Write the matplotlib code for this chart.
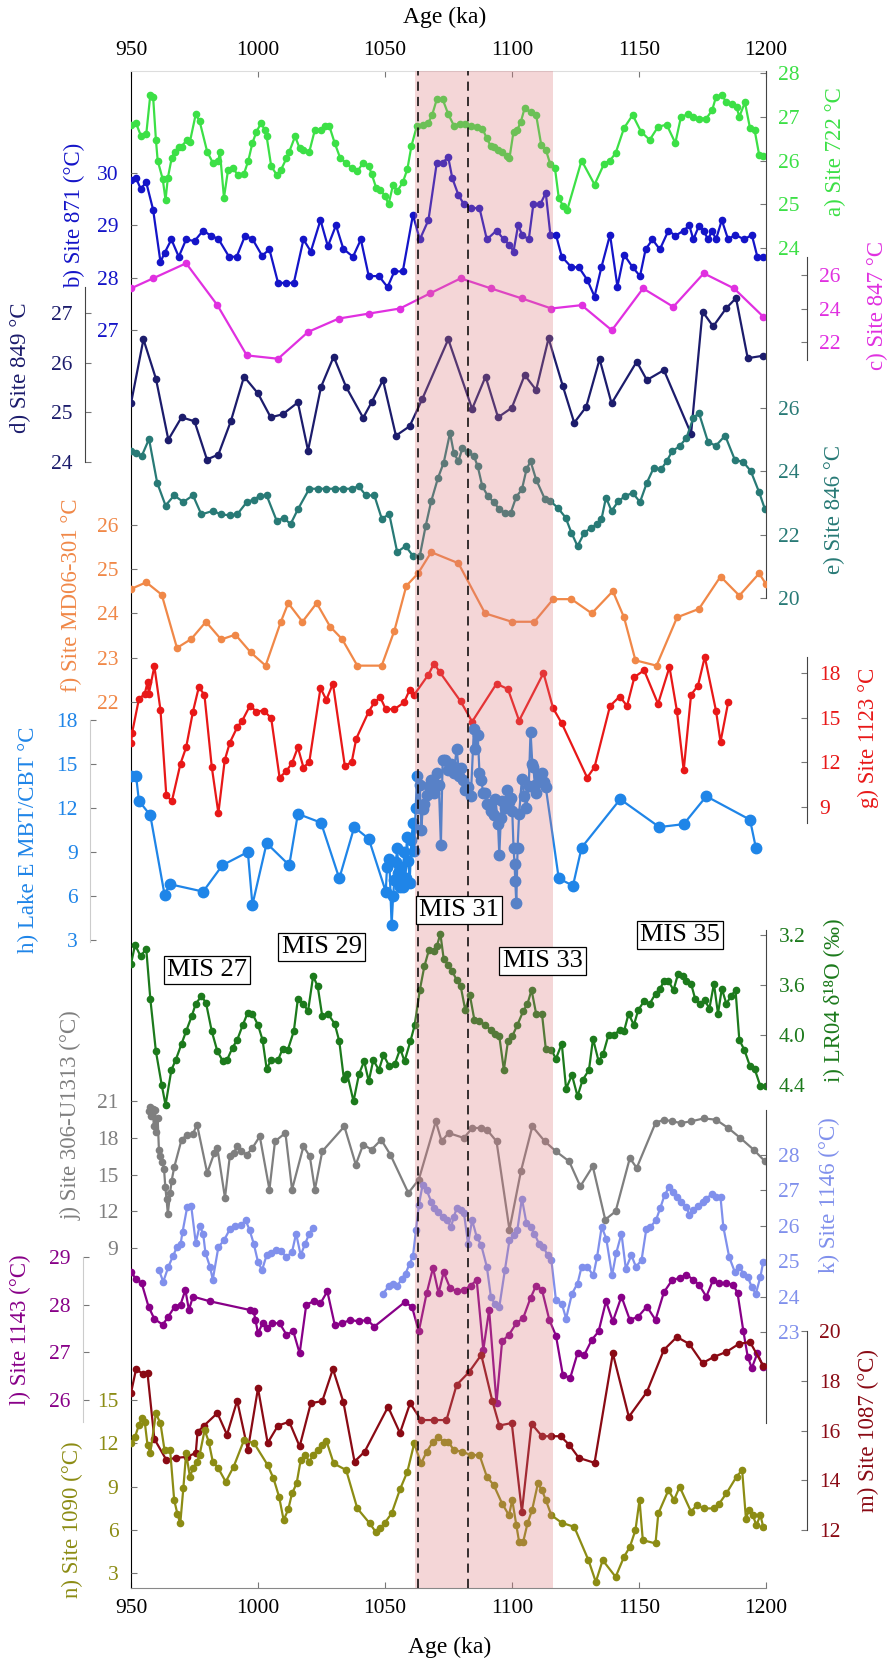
import matplotlib
matplotlib.use("Agg")
import matplotlib.pyplot as plt

plt.rcParams['font.family'] = ['Liberation Serif', 'DejaVu Serif']

# ---- proxy records: (age in ka, value) ----
site722 = [(950, 26.82), (952, 26.85), (954, 26.55), (956, 26.6), (957.6, 27.5), (958.7, 27.46), (959.8, 26.48),
           (960.5, 26.0), (962.5, 25.57), (963.6, 25.1), (964.5, 25.6), (966, 26.05), (967.2, 26.2), (968.8, 26.3),
           (969.9, 26.32), (972, 26.47), (973.2, 26.43), (975.5, 27.06), (977, 26.9), (980, 26.2), (982.2, 25.95),
           (984.4, 26.0), (985, 26.2), (986.6, 25.15), (988.2, 25.78), (990, 25.82), (992.2, 25.67), (994.5, 25.7),
           (996.2, 26.0), (997.8, 26.4), (999.4, 26.66), (1001.2, 26.85), (1002.7, 26.7), (1003.4, 26.55),
           (1005.2, 25.87), (1007.4, 25.67), (1009, 25.78), (1011.2, 26.05), (1012.3, 26.2), (1014.6, 26.55),
           (1016.4, 26.28), (1017.9, 26.25), (1020.2, 26.2), (1022.4, 26.7), (1024.8, 26.7), (1026.2, 26.8),
           (1028, 26.8), (1030.2, 26.4), (1032.4, 26.05), (1034.7, 25.95), (1036.9, 25.82), (1039.1, 25.75),
           (1041.4, 25.95), (1043.6, 25.87), (1044.7, 25.7), (1046.5, 25.38), (1048.1, 25.33), (1049.9, 25.2),
           (1051.4, 25.0), (1053.2, 25.45), (1054.8, 25.3), (1057, 25.5), (1058.8, 25.8), (1060.4, 26.33),
           (1062.6, 26.8), (1064.8, 26.82), (1067, 26.85), (1068.6, 27.05), (1070.4, 27.4), (1072.7, 27.4),
           (1074.9, 27.06), (1077.1, 26.8), (1079.4, 26.83), (1081.6, 26.83), (1083.8, 26.8), (1086.1, 26.76),
           (1088.3, 26.73), (1090, 26.52), (1091.6, 26.33), (1092.8, 26.3), (1094.5, 26.25), (1096.1, 26.2),
           (1097.9, 26.1), (1099, 26.05), (1100.6, 26.66), (1102.1, 26.7), (1103.5, 26.89), (1105, 27.2),
           (1107.3, 27.1), (1109.5, 27.04), (1111.5, 26.36), (1113.3, 26.25), (1115.1, 25.91), (1116.9, 25.83),
           (1118.4, 25.15), (1120.2, 24.95), (1121.8, 24.88), (1127.4, 26.0), (1132.5, 25.45), (1136.3, 25.93),
           (1138.6, 26.0), (1140.8, 26.17), (1144.1, 26.74), (1147.5, 27.04), (1150.8, 26.66), (1154.2, 26.47),
           (1157.5, 26.77), (1160.9, 26.82), (1164.3, 26.4), (1166.5, 26.99), (1169.2, 27.06), (1171.4, 26.99),
           (1173.6, 26.96), (1176.5, 26.96), (1178.8, 27.15), (1180.3, 27.45), (1182.6, 27.5), (1184.4, 27.33),
           (1186.6, 27.3), (1188.4, 27.22), (1189.5, 27.0), (1191.7, 27.33), (1193.7, 26.74), (1195.5, 26.7),
           (1197.3, 26.13), (1198.9, 26.1)]

site871 = [(950, 29.87), (952, 29.9), (953.8, 29.7), (956, 29.82), (958.7, 29.3), (961.6, 28.3), (963.2, 28.47),
           (965.9, 28.73), (968.8, 28.4), (971.7, 28.73), (975, 28.7), (978.4, 28.9), (981.5, 28.8), (984.4, 28.74),
           (988.6, 28.4), (991.6, 28.4), (994.9, 28.8), (997.8, 28.74), (1001.6, 28.42), (1004.5, 28.54),
           (1007.9, 27.9), (1011.2, 27.9), (1014.1, 27.9), (1017.9, 28.73), (1020.8, 28.5), (1024.6, 29.1),
           (1027.5, 28.6), (1030.7, 29.0), (1033.6, 28.55), (1037.4, 28.4), (1040.5, 28.73), (1043.6, 28.03),
           (1047.6, 28.03), (1051, 27.82), (1053.7, 28.12), (1057, 28.12), (1061, 29.2), (1063.7, 28.73),
           (1067.1, 29.1), (1070.4, 30.2), (1072.7, 30.2), (1074.9, 30.3), (1076.5, 29.9), (1078.9, 29.58),
           (1081.1, 29.4), (1083.8, 29.33), (1087.2, 29.33), (1090.1, 28.73), (1093.9, 28.9), (1096.8, 28.73),
           (1099, 28.63), (1100.6, 28.5), (1102.4, 29.0), (1104, 28.82), (1106.6, 28.73), (1108.4, 29.4),
           (1111.1, 29.4), (1113.3, 29.62), (1115.1, 28.82), (1117.3, 28.82), (1119.6, 28.4), (1123.4, 28.2),
           (1126.3, 28.2), (1129.6, 27.96), (1132.5, 27.64), (1135.2, 28.2), (1138.6, 28.82), (1141.5, 27.83),
           (1144.1, 28.44), (1147.5, 28.2), (1150.4, 28.03), (1152.6, 28.54), (1155.3, 28.73), (1158.2, 28.54),
           (1161.6, 28.9), (1164.3, 28.8), (1167.6, 28.9), (1169.8, 29.0), (1171.4, 28.73), (1173.6, 28.99),
           (1175.4, 28.9), (1177.2, 28.73), (1178.8, 28.9), (1180.3, 28.73), (1182.6, 29.1), (1185.1, 28.73),
           (1187.8, 28.82), (1191.5, 28.73), (1194.4, 28.82), (1196.6, 28.4), (1198.9, 28.4)]

site847 = [(950, 25.2), (958.7, 25.8), (971.7, 26.7), (984, 24.2), (995.6, 21.2), (1007.9, 21.0), (1019.7, 22.6),
           (1031.8, 23.4), (1043.8, 23.7), (1055.9, 24.0), (1067.7, 24.9), (1079.8, 25.8), (1091.7, 25.2),
           (1103.9, 24.6), (1115.5, 24.0), (1127.4, 24.2), (1139.3, 22.7), (1151.6, 25.2), (1163.5, 24.1),
           (1175.5, 26.1), (1187.4, 25.2), (1199, 23.5)]

site849 = [(950, 25.18), (954.9, 26.47), (959.8, 25.68), (964.7, 24.45), (969.9, 24.9), (975, 24.82), (979.9, 24.05),
           (984.4, 24.15), (989.3, 24.82), (994.5, 25.72), (1000, 25.38), (1005, 24.9), (1009.7, 24.96),
           (1015.7, 25.2), (1019.7, 24.23), (1024.8, 25.51), (1029.8, 26.12), (1034.7, 25.51), (1041.4, 24.89),
           (1044.7, 25.2), (1049.2, 25.65), (1054.3, 24.53), (1059.7, 24.72), (1064.6, 25.26), (1074.9, 26.47),
           (1084.3, 25.07), (1089.6, 25.72), (1094.5, 24.9), (1099.9, 25.09), (1105, 25.75), (1109.5, 25.45),
           (1114.4, 26.49), (1120, 25.53), (1124.5, 24.79), (1129.2, 25.11), (1134.5, 26.07), (1139.2, 25.18),
           (1149.1, 26.02), (1153.1, 25.65), (1159.8, 25.85), (1170.5, 24.57), (1175, 27.03), (1179.2, 26.73),
           (1184.4, 27.1), (1188.2, 27.3), (1192.8, 26.09), (1198.9, 26.14)]

site846 = [(950, 24.64), (952, 24.58), (954.2, 24.48), (957.1, 25.02), (960.3, 23.64), (963.6, 22.92), (967, 23.24),
           (970.6, 23.03), (974.4, 23.24), (977.7, 22.64), (982.2, 22.75), (985.5, 22.64), (988.9, 22.61),
           (991.8, 22.64), (995.6, 23.03), (998.3, 23.11), (1000.7, 23.22), (1003.4, 23.24), (1007.4, 22.43),
           (1010.1, 22.54), (1012.8, 22.33), (1015.7, 22.8), (1020.2, 23.45), (1023.5, 23.45), (1026.9, 23.45),
           (1030.2, 23.45), (1033.6, 23.45), (1036.9, 23.45), (1039.6, 23.53), (1042.5, 23.24), (1045.8, 23.24),
           (1048.7, 22.51), (1051.7, 22.64), (1054.8, 21.45), (1058.1, 21.64), (1061, 21.33), (1063.7, 21.33),
           (1066, 22.27), (1068.2, 23.06), (1070.9, 23.8), (1073.1, 24.27), (1075.6, 25.21), (1077.1, 24.58),
           (1078.9, 24.32), (1080.5, 24.74), (1082.7, 24.6), (1085, 24.48), (1086.5, 24.16), (1088.3, 23.53),
           (1090.5, 23.22), (1092.8, 23.03), (1095, 22.8), (1097.2, 22.69), (1099.5, 22.69), (1101.7, 23.2),
           (1103.9, 23.43), (1105.7, 24.06), (1107.3, 24.32), (1109.5, 23.74), (1112.9, 23.13), (1115.1, 23.06),
           (1118, 22.85), (1121.1, 22.54), (1123.4, 22.06), (1125.8, 21.64), (1128.5, 22.06), (1131.2, 22.22),
           (1133.4, 22.33), (1135.2, 22.48), (1137, 23.17), (1139.2, 22.75), (1141.9, 23.06), (1144.6, 23.22),
           (1147.5, 23.32), (1150.4, 23.03), (1153.1, 23.64), (1155.8, 24.11), (1158.7, 24.06), (1160.9, 24.32),
           (1163.1, 24.64), (1166, 24.79), (1168.7, 25.06), (1171.4, 25.69), (1173.6, 25.84), (1177.2, 24.92),
           (1180.3, 24.81), (1183.9, 25.13), (1187.7, 24.37), (1191.1, 24.29), (1194, 24.01), (1197.3, 23.34),
           (1199.6, 22.8)]

site_md06 = [(950, 24.55), (956, 24.7), (962.1, 24.42), (968.1, 23.22), (973.7, 23.42), (979.5, 23.81), (985.5, 23.41),
             (991.1, 23.52), (997.1, 23.12), (1003, 22.82), (1009, 23.81), (1011.9, 24.23), (1017.5, 23.81),
             (1023.1, 24.23), (1028.4, 23.7), (1033.1, 23.42), (1039.1, 22.82), (1048.7, 22.82), (1053.7, 23.61),
             (1058.4, 24.62), (1063, 24.9), (1068.2, 25.38), (1078.9, 25.13), (1089.4, 24.0), (1099.9, 23.81),
             (1108.8, 23.81), (1116.2, 24.32), (1123.4, 24.32), (1131.4, 24.0), (1139.7, 24.5), (1144.1, 23.91),
             (1148.6, 22.94), (1156.9, 22.82), (1165, 23.91), (1173.6, 24.1), (1182.1, 24.83), (1189.5, 24.4),
             (1197.3, 24.9), (1200, 24.66)]

site1123 = [(950, 13.27), (950.4, 13.95), (953.1, 16.24), (955.4, 16.6), (956.5, 17.37), (957, 16.6), (959.2, 18.45),
            (961.6, 15.52), (963.9, 9.78), (966.1, 9.4), (969.5, 11.92), (971.7, 13.0), (974.4, 15.41), (976.7, 17.05),
            (978.9, 16.54), (981.8, 11.69), (984.4, 8.59), (986.9, 12.14), (988.9, 13.32), (991.8, 14.35),
            (993.8, 14.8), (996.8, 15.79), (999.4, 15.41), (1002.3, 15.48), (1005.2, 14.96), (1008.5, 10.97),
            (1011.2, 11.42), (1013.4, 11.96), (1015.7, 13.0), (1017.9, 11.65), (1020.2, 12.03), (1024.6, 16.99),
            (1026.9, 16.2), (1029.5, 17.28), (1034.2, 11.74), (1036.9, 12.03), (1038.7, 13.6), (1043.6, 15.41),
            (1045.8, 16.02), (1048.1, 16.38), (1050.3, 15.57), (1053.7, 15.57), (1057.5, 16.02), (1059.7, 16.87),
            (1061.5, 16.54), (1067.1, 17.89), (1069.3, 18.63), (1071.6, 18.05), (1079.8, 16.09), (1084.3, 14.73),
            (1093.9, 17.28), (1098.4, 16.92), (1102.8, 14.8), (1112.4, 18.0), (1116.2, 15.63), (1119.6, 14.62),
            (1129.6, 10.97), (1132.5, 11.69), (1138.6, 15.79), (1142.4, 16.42), (1145.3, 15.79), (1148.2, 17.73),
            (1152, 18.18), (1157.5, 15.93), (1162, 18.4), (1164.9, 15.48), (1167.6, 11.47), (1170.5, 16.54),
            (1173.2, 17.14), (1175.9, 19.08), (1180.3, 15.48), (1182.1, 13.38), (1185.1, 16.02)]

lake_e = [(950, 14.2), (952, 14.2), (953.1, 12.5), (957.6, 11.5), (963.2, 6.1), (965.4, 6.8), (978.4, 6.3), (986, 8.1),
          (996, 9.0), (997.8, 5.4), (1003.4, 9.6), (1012.3, 8.1), (1015.7, 11.6), (1024.8, 11.0), (1032, 7.2),
          (1037.9, 10.7), (1043.6, 9.9), (1050.3, 6.3), (1050.8, 8.0), (1051.7, 8.5), (1052.6, 4.0), (1053.2, 6.0),
          (1053.7, 7.1), (1054.3, 8.3), (1054.8, 9.3), (1055.3, 7.6), (1055.9, 6.6), (1056.4, 8.0), (1057, 6.6),
          (1057.5, 9.0), (1058.1, 7.2), (1058.6, 10.0), (1059.2, 8.4), (1059.7, 6.9), (1060.4, 9.8), (1061, 11.0),
          (1061.5, 9.1), (1062.1, 12.0), (1062.6, 14.2), (1063.2, 12.0), (1063.7, 13.6), (1064.3, 10.5),
          (1064.8, 11.9), (1065.4, 12.3), (1066.4, 12.9), (1067.3, 13.5), (1068.2, 13.9), (1069.3, 13.0),
          (1070.4, 14.4), (1071.2, 13.6), (1072, 9.5), (1072.7, 15.3), (1073.8, 15.3), (1074.9, 14.6), (1076, 15.0),
          (1077.1, 14.4), (1078.2, 16.0), (1079.3, 14.2), (1079.8, 14.7), (1080.9, 13.9), (1081.6, 13.2),
          (1082.7, 13.4), (1083.8, 12.8), (1085, 17.4), (1085.6, 16.0), (1086.5, 17.0), (1087.2, 14.4),
          (1087.9, 13.9), (1088.7, 13.0), (1089.4, 13.0), (1090.1, 12.3), (1091, 12.2), (1091.7, 11.8),
          (1092.8, 11.5), (1093.5, 12.6), (1094.5, 10.9), (1095, 8.8), (1095.6, 11.3), (1096.1, 12.5), (1097.2, 12.0),
          (1097.9, 13.2), (1098.8, 12.4), (1099.5, 12.7), (1100.1, 11.8), (1100.6, 9.3), (1101, 8.2), (1101.3, 7.0),
          (1101.7, 5.5), (1102.2, 9.3), (1102.8, 11.6), (1103.9, 14.0), (1104.8, 12.8), (1105.7, 12.0),
          (1106.6, 13.5), (1107.3, 17.2), (1108, 15.0), (1108.4, 14.8), (1109, 13.6), (1109.5, 13.0), (1110.6, 14.2),
          (1111.8, 14.4), (1112.5, 13.8), (1113.3, 13.4), (1118.4, 7.2), (1124, 6.7), (1127.4, 9.3), (1142.6, 12.6),
          (1158, 10.7), (1167.6, 10.9), (1176.5, 12.8), (1193.7, 11.2), (1196, 9.3)]

lr04 = [(950, 3.43), (951.6, 3.28), (953.8, 3.37), (956, 3.31), (957.6, 3.71), (959.8, 4.13), (962.1, 4.4), (963.6, 4.56),
        (965.9, 4.28), (967.6, 4.2), (969.9, 4.07), (971.7, 3.97), (973.9, 3.85), (975.5, 3.75), (977.7, 3.69),
        (979.5, 3.74), (981.8, 3.97), (984, 4.13), (986.2, 4.21), (987.8, 4.2), (990, 4.1), (991.8, 4.04), (994, 3.92),
        (996, 3.82), (997.8, 3.83), (1000, 3.92), (1001.8, 4.04), (1003.4, 4.27), (1005.2, 4.2), (1007.9, 4.2),
        (1009.7, 4.11), (1011.7, 4.12), (1014.1, 3.97), (1015.7, 3.71), (1017.9, 3.75), (1019.7, 3.81),
        (1021.7, 3.53), (1023.5, 3.61), (1025.3, 3.85), (1027.5, 3.83), (1030.2, 3.91), (1032, 4.05), (1033.8, 4.35),
        (1035.1, 4.31), (1037.6, 4.53), (1039.8, 4.31), (1041.8, 4.21), (1043.6, 4.37), (1045.4, 4.2),
        (1047.6, 4.28), (1049.4, 4.16), (1051.7, 4.25), (1053.9, 4.23), (1056, 4.11), (1057.7, 4.21), (1060, 4.05),
        (1061.7, 3.92), (1063.7, 3.64), (1065.5, 3.45), (1067.3, 3.32), (1069.1, 3.33), (1070.4, 3.29),
        (1071.8, 3.19), (1073.1, 3.39), (1074.9, 3.44), (1076.5, 3.49), (1078.2, 3.56), (1079.8, 3.61),
        (1081.6, 3.8), (1083.4, 3.68), (1085.2, 3.88), (1087.2, 3.89), (1089.4, 3.92), (1091.7, 3.96),
        (1093.4, 3.99), (1095, 4.01), (1096.8, 4.28), (1098.4, 4.05), (1100.1, 4.01), (1102.1, 3.92),
        (1104.4, 3.81), (1106.1, 3.75), (1107.7, 3.64), (1109.5, 3.83), (1111.8, 3.83), (1113.3, 4.11),
        (1115.5, 4.12), (1117.3, 4.19), (1119.6, 4.07), (1121.3, 4.43), (1123.6, 4.32), (1125.8, 4.49),
        (1127.8, 4.36), (1130.3, 4.28), (1131.9, 4.03), (1134.1, 4.21), (1135.9, 4.15), (1138, 4.0), (1140.1, 4.0),
        (1142.4, 3.96), (1144.1, 3.97), (1145.9, 3.83), (1148, 3.92), (1149.7, 3.8), (1152, 3.73), (1154.2, 3.75),
        (1156.5, 3.67), (1158.3, 3.63), (1159.8, 3.57), (1161.6, 3.57), (1163.6, 3.64), (1165.4, 3.51),
        (1167.2, 3.53), (1168.7, 3.57), (1170.5, 3.59), (1172.1, 3.71), (1173.9, 3.75), (1175.9, 3.72),
        (1177.7, 3.79), (1179.5, 3.59), (1181.1, 3.83), (1182.6, 3.63), (1184.4, 3.75), (1186.2, 3.69),
        (1188, 3.64), (1189.5, 4.04), (1191.5, 4.12), (1193.7, 4.25), (1195.5, 4.27), (1197.8, 4.41), (1200, 4.41)]

site_u1313 = [(957, 20.2), (957.5, 20.5), (958, 19.8), (958.5, 20.4), (959, 19.0), (959.5, 20.3), (960, 18.5),
              (960.5, 19.6), (961, 17.0), (961.5, 16.5), (962.3, 16.0), (963, 15.5), (963.5, 14.0), (964, 13.0),
              (964.5, 11.8), (965.4, 13.5), (966, 14.5), (967, 15.6), (969.9, 17.86), (972.1, 18.27), (974.4, 18.35),
              (976, 19.1), (980, 15.14), (982.8, 16.77), (984, 17.18), (987, 13.1), (988.9, 16.5), (990.4, 16.77),
              (991.8, 17.32), (993.4, 16.91), (995.6, 16.64), (997.8, 17.18), (1000.7, 18.14), (1004.5, 13.78),
              (1006.7, 17.73), (1010.8, 18.41), (1013.4, 13.78), (1017.9, 17.32), (1020.4, 16.5), (1022.4, 13.78),
              (1025.3, 16.91), (1034, 18.95), (1038.5, 15.82), (1041.4, 17.46), (1044.7, 17.05), (1048.5, 17.86),
              (1052.1, 16.64), (1059.2, 13.5), (1063.3, 14.6), (1070, 19.36), (1072.3, 17.73), (1075, 18.41),
              (1081.1, 18.0), (1084.3, 18.82), (1087.9, 18.82), (1090.1, 18.68), (1093.9, 17.73), (1099, 10.5),
              (1103.5, 15.27), (1108, 18.95), (1112.9, 17.73), (1117.3, 16.91), (1122.5, 16.09), (1126.9, 14.05),
              (1131.8, 15.68), (1136.7, 11.32), (1140.8, 12.0), (1146.4, 16.36), (1149.1, 15.55), (1156.5, 19.23),
              (1159.8, 19.5), (1163.1, 19.36), (1166.5, 19.23), (1170.5, 19.36), (1175.4, 19.6), (1180.3, 19.5),
              (1185.1, 18.82), (1189.9, 18.0), (1195.1, 17.05), (1199.6, 16.09)]

# two separate segments (gap between ~1022 and ~1049 ka)
site1146 = [(961, 24.75), (962.7, 24.42), (964.7, 24.84), (966.5, 25.14), (968.1, 25.4), (969.5, 25.48), (970.3, 25.83),
            (972.1, 26.52), (973.7, 26.56), (975.5, 25.52), (977, 25.99), (978.4, 25.78), (979.3, 25.24),
            (981.1, 24.84), (982.2, 24.48), (984.4, 25.4), (986.6, 25.59), (988.9, 25.9), (991.1, 25.99),
            (993.4, 26.02), (995.1, 26.16), (996.7, 25.88), (998.3, 25.5), (1000, 24.98), (1001.6, 24.75),
            (1003.4, 25.17), (1005.2, 25.22), (1007.2, 25.31), (1009, 25.29), (1011.2, 25.12), (1013.4, 25.26),
            (1015, 25.78), (1016.8, 25.17), (1018.6, 25.5), (1020.2, 25.78), (1021.7, 25.95),
            (1049.2, 24.08), (1051.4, 24.29), (1053.2, 24.37), (1054.8, 24.29), (1056.6, 24.51), (1058.1, 24.65),
            (1059.7, 24.93), (1061, 25.14), (1062.2, 25.88), (1063.3, 26.58), (1064.8, 27.15), (1066.4, 27.01),
            (1068.2, 26.68), (1069.3, 26.49), (1070.9, 26.4), (1072.7, 26.24), (1074.4, 26.16), (1076, 25.97),
            (1077.1, 26.25), (1078.2, 26.49), (1079.8, 26.44), (1081.1, 26.35), (1082.7, 25.5), (1084.3, 26.16),
            (1086.1, 25.69), (1087.9, 25.45), (1090.1, 24.84), (1091.7, 23.99), (1093.2, 23.8), (1095, 23.71),
            (1097.2, 24.75), (1099, 25.59), (1100.6, 25.74), (1102.1, 25.88), (1103.9, 26.77), (1105.7, 26.07),
            (1107.3, 25.97), (1108.8, 25.78), (1110.6, 25.5), (1112.4, 25.4), (1114, 25.17), (1115.5, 25.03),
            (1117.3, 23.9), (1119.6, 23.8), (1121.3, 23.38), (1123.6, 24.08), (1125.8, 24.37), (1127.4, 24.84),
            (1129.6, 24.84), (1132, 24.6), (1133.5, 25.12), (1135.3, 25.97), (1137.1, 25.64), (1139.4, 24.6),
            (1141, 25.22), (1143.1, 25.78), (1144.8, 24.79), (1147, 25.17), (1148.8, 24.84), (1151, 25.03),
            (1152.9, 25.92), (1154.5, 25.97), (1156.7, 26.16), (1158.3, 26.49), (1160.1, 26.87), (1161.9, 27.1),
            (1163.5, 26.96), (1165.1, 26.82), (1166.5, 26.68), (1168.7, 26.54), (1169.8, 26.3), (1171.4, 26.44),
            (1173.2, 26.56), (1175, 26.68), (1176.5, 26.77), (1178.8, 26.9), (1180.3, 26.82), (1182.1, 26.8),
            (1183.2, 25.97), (1185.5, 25.12), (1187.7, 24.7), (1189.5, 24.84), (1191.1, 24.65), (1192.8, 24.56),
            (1194.4, 24.27), (1196, 24.08), (1197.8, 24.56), (1198.9, 24.98)]
site1146_gap = 1035

site1143 = [(950, 28.68), (952, 28.54), (954.2, 28.45), (956.9, 27.96), (959.2, 27.7), (962.5, 27.58), (964.7, 27.75),
            (967.2, 27.96), (969.5, 28.0), (971.4, 28.31), (972.8, 27.89), (974.4, 28.17), (981.1, 28.07),
            (996.7, 27.89), (998.3, 27.86), (999, 27.68), (1000, 27.4), (1001.8, 27.61), (1003.4, 27.51),
            (1005.6, 27.61), (1008.5, 27.61), (1011.2, 27.37), (1013.9, 27.44), (1016.4, 26.98), (1019, 28.0),
            (1021.9, 28.07), (1024.6, 28.03), (1027.3, 28.28), (1030.2, 27.58), (1033.1, 27.61), (1036.3, 27.68),
            (1039.6, 27.65), (1043, 27.68), (1045.8, 27.54), (1057.7, 28.05), (1060.6, 27.96), (1063.3, 27.44),
            (1066.4, 28.24), (1068.9, 28.77), (1071.1, 28.24), (1073.1, 28.68), (1075.6, 28.35), (1078.2, 28.28),
            (1081.1, 28.31), (1083.8, 28.4), (1086.1, 28.52), (1088.7, 27.05), (1091, 27.89), (1093.9, 25.94),
            (1096.1, 27.23), (1098.8, 27.37), (1101.7, 27.61), (1104.4, 27.72), (1107.3, 28.14), (1109.5, 28.4),
            (1111.8, 28.31), (1114.7, 27.68), (1117.3, 27.35), (1120, 26.53), (1122.9, 26.46), (1125.8, 26.98),
            (1128.5, 26.95), (1131.4, 27.26), (1134.1, 27.44), (1137, 28.07), (1139.7, 27.65), (1143.1, 28.17),
            (1146.4, 27.68), (1149.7, 27.75), (1153.1, 27.96), (1156.5, 27.68), (1159.8, 28.26), (1163.1, 28.52),
            (1166, 28.56), (1168.7, 28.63), (1171.4, 28.52), (1173.6, 28.42), (1176.5, 28.17), (1179.2, 28.52),
            (1181.6, 28.45), (1184.4, 28.45), (1187.1, 28.42), (1188.8, 28.24), (1191.1, 27.44), (1192.8, 26.91),
            (1194.4, 26.67), (1196.6, 26.98), (1198.9, 26.7)]

site1087 = [(950, 17.51), (952, 18.47), (954.7, 18.27), (956.5, 18.3), (959.2, 15.66), (963.9, 14.82), (967.6, 14.9),
            (972.1, 14.94), (975.5, 15.1), (976.2, 15.94), (978.8, 16.2), (984, 16.7), (987.8, 15.83), (991.8, 17.2),
            (996, 15.22), (1000, 17.7), (1003.8, 15.5), (1007.9, 16.2), (1012.3, 16.35), (1016.4, 15.36),
            (1020.8, 17.1), (1025.3, 17.18), (1029.5, 18.47), (1033.6, 17.15), (1038, 14.75), (1042, 15.15),
            (1051.2, 16.95), (1055.9, 15.9), (1059.9, 17.1), (1064.2, 16.42), (1069.3, 16.42), (1074.2, 16.42),
            (1078.2, 17.83), (1083.1, 18.35), (1087.9, 19.04), (1092.3, 17.17), (1095, 16.2), (1099.9, 16.3),
            (1103.9, 12.73), (1107.7, 16.27), (1111.8, 15.77), (1115.5, 15.77), (1119.1, 15.77), (1122.5, 15.43),
            (1126.3, 14.9), (1132.5, 14.7), (1139.7, 19.1), (1146, 16.55), (1153.1, 17.55), (1159.8, 19.24),
            (1164.9, 19.76), (1169.8, 19.48), (1175, 18.71), (1179.5, 18.96), (1184.4, 19.16), (1189.3, 19.48),
            (1193.7, 19.56), (1198.9, 18.6)]

site1090 = [(950, 11.99), (951.6, 12.45), (953.1, 13.26), (954.2, 13.73), (955.4, 13.5), (956.5, 11.88), (957.6, 11.34),
            (959.8, 14.07), (961.6, 13.38), (963.2, 11.53), (965.4, 11.53), (967, 8.06), (968.3, 7.08), (969.4, 6.44),
            (970.6, 8.87), (971.7, 11.3), (973.2, 9.68), (974.4, 10.25), (976, 10.72), (977, 11.18), (979, 12.92),
            (980.6, 12.11), (982.2, 10.72), (984.4, 10.25), (987.3, 9.33), (990.4, 10.37), (994.5, 12.22),
            (998.5, 11.99), (1003.8, 10.49), (1006.1, 9.56), (1008.3, 8.29), (1010.1, 6.67), (1011.9, 7.41),
            (1013.4, 8.52), (1015.2, 9.21), (1016.8, 10.83), (1018.6, 11.18), (1020.2, 10.72), (1021.7, 11.18),
            (1023.5, 11.53), (1025.3, 11.88), (1026.9, 12.18), (1029.8, 10.6), (1034.7, 10.14), (1039.1, 7.48),
            (1044, 6.44), (1046.3, 5.86), (1048.1, 6.09), (1049.9, 6.48), (1052.6, 7.13), (1055.9, 8.8),
            (1058.8, 10.02), (1061.5, 11.99), (1064.2, 10.6), (1066.4, 11.41), (1068.9, 12.11), (1070.9, 12.41),
            (1073.1, 12.11), (1074.9, 12.11), (1077.1, 11.53), (1080.5, 11.41), (1083.8, 11.18), (1087.2, 11.18),
            (1090.1, 9.68), (1092.8, 9.1), (1096.1, 7.82), (1098.8, 7.01), (1100.1, 8.06), (1101.7, 6.32),
            (1102.8, 5.16), (1104.4, 5.16), (1106.1, 6.44), (1107.9, 7.36), (1110.2, 9.21), (1111.8, 8.75),
            (1113.3, 8.06), (1115.5, 7.01), (1119.6, 6.48), (1124.5, 6.2), (1130.1, 3.89), (1133, 2.38),
            (1135.7, 3.89), (1140.8, 2.73), (1144.1, 4.12), (1146.4, 4.81), (1148.6, 5.97), (1150.2, 8.06),
            (1151.5, 5.28), (1156.5, 5.05), (1157.6, 7.13), (1161.6, 8.75), (1163.8, 8.06), (1166, 8.98),
            (1170.5, 7.25), (1172.7, 7.71), (1175.4, 7.48), (1179.4, 7.48), (1181.6, 7.82), (1184.4, 8.52),
            (1188.4, 9.68), (1190.6, 10.14), (1192.1, 6.78), (1193.3, 7.36), (1194.8, 7.01), (1196.2, 6.32),
            (1197.8, 7.01), (1198.9, 6.2)]

mis_names = ["MIS 27", "MIS 29", "MIS 31", "MIS 33", "MIS 35"]
mis_ages = [980, 1025, 1079, 1112, 1166]
mis31_band = (1062, 1116)
dashed_ages = [1063, 1082.5]
age_ticks = [950, 1000, 1050, 1100, 1150, 1200]

# ---- layout in figure pixels ----
FIG_W, FIG_H = 890, 1664
LEFT, RIGHT, TOP, BOT = 131, 766, 71, 1588
TICK_FS, LABEL_FS = 15.5, 16.5

fig = plt.figure(figsize=(FIG_W / 100, FIG_H / 100), dpi=100)
ax = fig.add_axes([LEFT / FIG_W, 1 - BOT / FIG_H, (RIGHT - LEFT) / FIG_W, (BOT - TOP) / FIG_H])
ax.set_xlim(950, 1200)
ax.set_ylim(0, 1)
ax.set_yticks([])
ax.set_xticks(age_ticks)
ax.tick_params(axis='x', direction='in', length=4, top=True, labeltop=True,
               labelsize=TICK_FS, pad=8, color='#777777')
ax.spines['right'].set_visible(False)
ax.spines['left'].set_color('black')
ax.spines['top'].set_color('#dddddd')
ax.spines['bottom'].set_color('#888888')
fig.text(445 / FIG_W, 1 - 17 / FIG_H, "Age (ka)", ha='center', va='center', fontsize=17)
fig.text(450 / FIG_W, 1 - 1647 / FIG_H, "Age (ka)", ha='center', va='center', fontsize=17)


def value_at(px, ref):
    (v1, p1), (v2, p2) = ref
    return v1 + (v2 - v1) * (px - p1) / (p2 - p1)


def add_record(data, color, side, spine_x, ref, ticks, label, label_xy,
               spine_px=None, spine_color='#444444', ms=4.5, ticklabels=None, gap=None):
    tw = ax.twinx()
    tw.patch.set_visible(False)
    pts = sorted(data)
    if gap is None:
        segs = [pts]
    else:
        segs = [[p for p in pts if p[0] < gap], [p for p in pts if p[0] > gap]]
    for seg in segs:
        age, val = zip(*seg)
        tw.plot(age, val, '-o', color=color, lw=1.6, ms=ms, mec=color)
    tw.set_ylim(value_at(BOT, ref), value_at(TOP, ref))
    for s in tw.spines.values():
        s.set_visible(False)
    sp = tw.spines[side]
    sp.set_position(('axes', (spine_x - LEFT) / (RIGHT - LEFT)))
    if spine_px is not None:
        sp.set_visible(True)
        sp.set_color(spine_color)
        lo, hi = sorted(value_at(p, ref) for p in spine_px)
        sp.set_bounds(lo, hi)
    tw.yaxis.set_ticks_position(side)
    tw.set_yticks(ticks)
    if ticklabels is not None:
        tw.set_yticklabels(ticklabels)
    tw.tick_params(axis='y', direction='in', length=4, color='#777777',
                   labelcolor=color, labelsize=TICK_FS, pad=9)
    fig.text(label_xy[0] / FIG_W, 1 - label_xy[1] / FIG_H, label, rotation=90,
             color=color, fontsize=LABEL_FS, ha='center', va='center')
    return tw


add_record(site722, '#3ce046', 'right', RIGHT, [(28, 73), (24, 248)], [24, 25, 26, 27, 28],
           "a) Site 722 °C", (835, 152), spine_px=(TOP, 250))
add_record(site871, '#1414c8', 'left', LEFT, [(30, 173), (27, 330)], [27, 28, 29, 30],
           "b) Site 871 (°C)", (74, 215))
add_record(site847, '#e030e0', 'right', 807, [(26, 275), (22, 342)], [22, 24, 26],
           "c) Site 847 °C", (877, 305), spine_px=(257, 360))
add_record(site849, '#1c1c6c', 'left', 85, [(27, 313), (24, 462)], [24, 25, 26, 27],
           "d) Site 849 °C", (20, 368), spine_px=(287, 462))
add_record(site846, '#287a76', 'right', RIGHT, [(26, 408), (20, 598)], [20, 22, 24, 26],
           "e) Site 846 °C", (834, 510), spine_px=(250, 598))
add_record(site_md06, '#f08848', 'left', LEFT, [(25, 569), (22, 702)], [22, 23, 24, 25, 26],
           "f) Site MD06-301 °C", (71, 595))
add_record(site1123, '#e81818', 'right', 807, [(18, 673), (9, 807)], [9, 12, 15, 18],
           "g) Site 1123 °C", (868, 738), spine_px=(657, 823))
add_record(lake_e, '#1f85e8', 'left', 90, [(18, 720), (3, 940)], [3, 6, 9, 12, 15, 18],
           "h) Lake E MBT/CBT °C", (28, 840), spine_px=(720, 942), spine_color='#cccccc', ms=7.5)
add_record(lr04, '#1c7a1c', 'right', RIGHT, [(3.2, 935), (4.4, 1085)], [3.2, 3.6, 4.0, 4.4],
           "i) LR04 δ¹⁸O (‰)", (834, 1000), spine_px=(930, 1087),
           ticklabels=['3.2', '3.6', '4.0', '4.4'])
add_record(site_u1313, '#7f7f7f', 'left', LEFT, [(18, 1138), (9, 1248)], [9, 12, 15, 18, 21],
           "j) Site 306-U1313 (°C)", (71, 1115))
add_record(site1146, '#8090ec', 'right', RIGHT, [(28, 1155), (23, 1332)], [23, 24, 25, 26, 27, 28],
           "k) Site 1146 (°C)", (829, 1195), spine_px=(1110, 1423), gap=site1146_gap)
add_record(site1143, '#880088', 'left', 83, [(29, 1257), (26, 1400)], [26, 27, 28, 29],
           "l) Site 1143 (°C)", (20, 1330), spine_px=(1257, 1422), spine_color='#cccccc')
add_record(site1087, '#8a0a14', 'right', 807, [(20, 1331), (12, 1530)], [12, 14, 16, 18, 20],
           "m) Site 1087 (°C)", (868, 1430), spine_px=(1331, 1530))
add_record(site1090, '#8c8c14', 'left', LEFT, [(15, 1400), (3, 1573)], [3, 6, 9, 12, 15],
           "n) Site 1090 (°C)", (72, 1520))

# overlay: MIS 31 band, dashed markers and stage labels on top of the curves
ov = fig.add_axes(ax.get_position(), sharex=ax)
ov.set_ylim(0, 1)
ov.axis('off')
ov.axvspan(*mis31_band, color='#dc787d', alpha=0.3, lw=0)
for a in dashed_ages:
    ov.axvline(a, color='black', lw=1.1, ls=(0, (6, 4)))

mis_px = [970, 947, 910, 961, 935]
for name, age, py in zip(mis_names, mis_ages, mis_px):
    ov.text(age, (BOT - py) / (BOT - TOP), name, ha='center', va='center', fontsize=19,
            bbox=dict(boxstyle='square,pad=0.12', fc='white', ec='black', lw=0.9))

fig.savefig("out.png", dpi=100)
